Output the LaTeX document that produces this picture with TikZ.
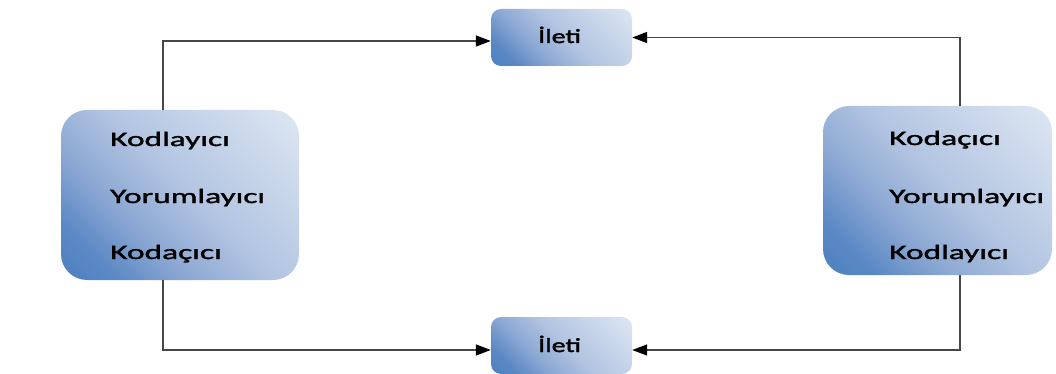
\documentclass[tikz,border=0pt]{standalone}
\usepackage{fontspec}
\setmainfont{Carlito}
\newfontfamily\boxfont[FakeStretch=1.63]{Carlito}
\newfontfamily\iletifont[FakeStretch=1.4]{Carlito}
\usetikzlibrary{arrows.meta}
\definecolor{boxdark}{HTML}{4A7EBE}
\definecolor{boxdarkb}{HTML}{5A88C4}
\definecolor{boxmidd}{HTML}{8CA8D3}
\definecolor{boxmid}{HTML}{B2C4E1}
\definecolor{boxlight}{HTML}{DEE8F3}
\definecolor{linegray}{HTML}{474747}
\pgfdeclareverticalshading{diagblue}{100bp}{color(0bp)=(boxdark); color(12bp)=(boxdark); color(24bp)=(boxdarkb); color(37bp)=(boxmidd); color(52bp)=(boxmid); color(86bp)=(boxlight); color(100bp)=(boxlight)}
\newcommand\heavytext[1]{\special{pdf:literal direct 2 Tr 0.35 w}#1\special{pdf:literal direct 0 Tr}}
\tikzset{
  bigbox/.style={draw=none, rounded corners=26pt, inner sep=0pt,
    shading=diagblue, shading angle=-45},
  smallbox/.style={draw=none, rounded corners=10pt, inner sep=0pt,
    shading=diagblue, shading angle=-45,
    minimum width=141pt, minimum height=57pt},
  lbl/.style={anchor=base west, inner sep=0pt, font=\boxfont\fontsize{20.5}{24}\selectfont, text=black},
  ilbl/.style={anchor=base west, inner sep=0pt, font=\iletifont\fontsize{20}{24}\selectfont, text=black},
  conn/.style={draw=linegray, line width=1.5pt, -{Triangle[length=15pt,width=11pt,color=black]}}
}
\begin{document}
\begin{tikzpicture}[x=1pt,y=-1pt]
\useasboundingbox (0,0) rectangle (1056,374);
% boxes
\node[bigbox, minimum width=238pt, minimum height=170pt] (lbox) at (180,195) {};
\node[bigbox, minimum width=229pt, minimum height=169pt] (rbox) at (937.5,190.5) {};
\node[smallbox] (top) at (561.5,37.5) {};
\node[smallbox] (bot) at (561.5,345.5) {};
% texts
\node[lbl] (l1) at (110,146) {\heavytext{Kodlayıcı}};
\node[lbl] (l2) at (110,203) {\heavytext{Yorumlayıcı}};
\node[lbl] (l3) at (110,259) {\heavytext{Kodaçıcı}};
\node[lbl] (r1) at (889,145) {\heavytext{Kodaçıcı}};
\node[lbl] (r2) at (889,203) {\heavytext{Yorumlayıcı}};
\node[lbl] (r3) at (889,259) {\heavytext{Kodlayıcı}};
\node[ilbl] (t1) at (538,43) {\heavytext{İleti}};
\node[ilbl] (b1) at (538,352) {\heavytext{İleti}};
% connectors
\draw[conn] ([xshift=-17pt]lbox.north) |- ([yshift=-3.5pt]top.west);
\draw[conn] ([xshift=22.5pt]rbox.north) |- (top.east);
\draw[conn] ([xshift=-17pt]lbox.south) |- ([yshift=-4.5pt]bot.west);
\draw[conn] ([xshift=22.5pt]rbox.south) |- ([yshift=-4.5pt]bot.east);
\end{tikzpicture}
\end{document}
